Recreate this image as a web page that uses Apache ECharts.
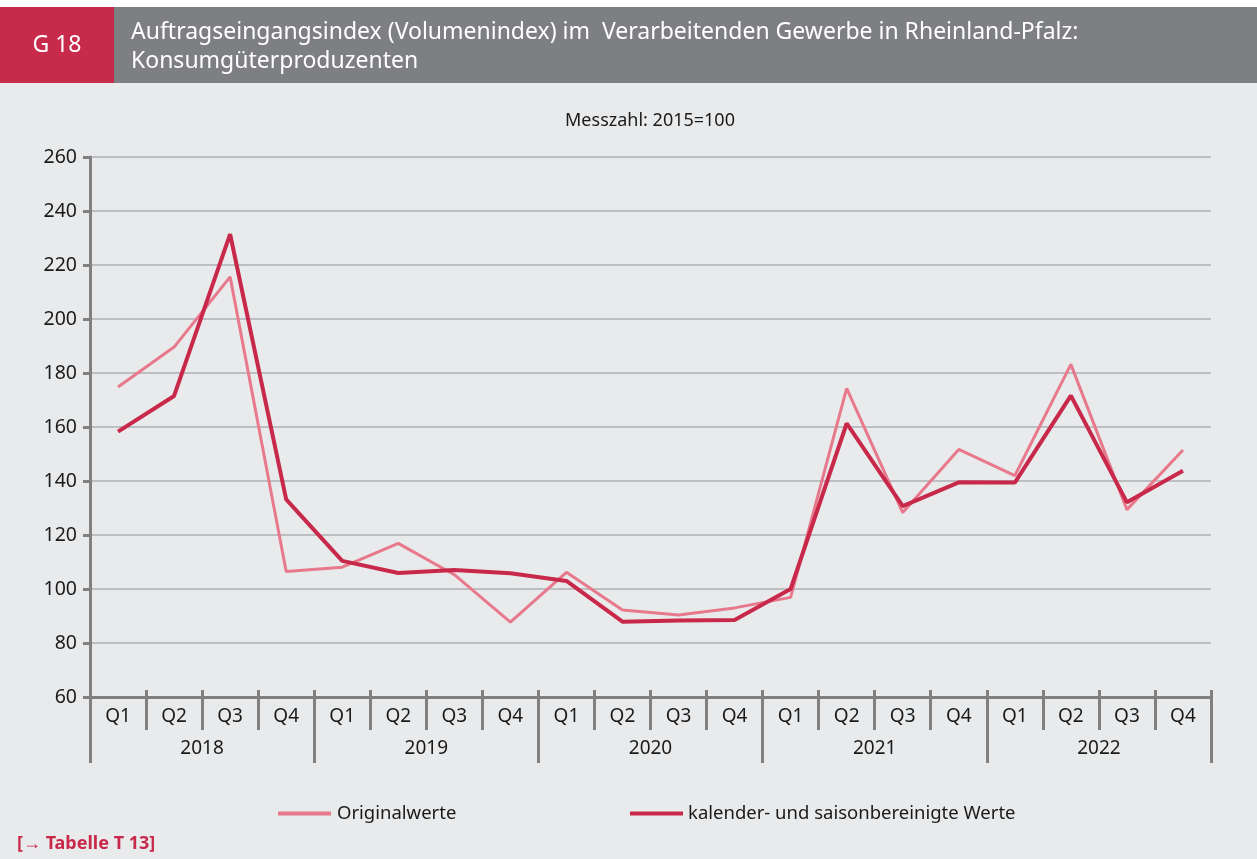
<!DOCTYPE html>
<html>
<head>
<meta charset="utf-8">
<script src="https://cdn.jsdelivr.net/npm/echarts@6/dist/echarts.min.js"></script>
<style>
  html, body { margin: 0; padding: 0; background: #ffffff; }
  #chart { width: 1257px; height: 859px; }
</style>
</head>
<body>
<div id="chart"></div>
<script>
  const quarters = ['Q1', 'Q2', 'Q3', 'Q4', 'Q1', 'Q2', 'Q3', 'Q4', 'Q1', 'Q2', 'Q3', 'Q4',
    'Q1', 'Q2', 'Q3', 'Q4', 'Q1', 'Q2', 'Q3', 'Q4'];
  const years = ['2018', '2019', '2020', '2021', '2022'];
  const originalwerte = [174.8, 189.6, 215.6, 106.5, 108.1, 116.9, 105.3, 87.7, 106.2, 92.2,
    90.4, 93.0, 96.9, 174.3, 128.3, 151.7, 142.0, 183.2, 129.4, 151.5];
  const bereinigt = [158.3, 171.5, 231.4, 133.2, 110.4, 105.9, 107.0, 105.8, 103.0, 87.9,
    88.3, 88.5, 100.0, 161.3, 130.7, 139.5, 139.4, 171.6, 132.1, 143.8];
  const yTicks = [60, 260, 20];

  const font = '"Noto Sans", "Open Sans", sans-serif';
  const axisGray = '#808080';
  const red = '#c8294b';
  const pink = '#e8798c';

  const chart = echarts.init(document.getElementById('chart'));
  chart.setOption({
    animation: false,
    backgroundColor: '#ffffff',
    textStyle: { fontFamily: font },
    graphic: [
      { type: 'rect', z: -10, shape: { x: 0, y: 83, width: 1257, height: 776 }, style: { fill: '#e9eaec' } },
      { type: 'rect', shape: { x: 0, y: 7, width: 114, height: 76 }, style: { fill: '#c72a4a' } },
      { type: 'rect', shape: { x: 114, y: 7, width: 1143, height: 76 }, style: { fill: '#7e7f83' } },
      {
        type: 'text', x: 57, y: 45,
        style: { text: 'G 18', fill: '#ffffff', font: '23px ' + font, align: 'center', verticalAlign: 'middle' }
      },
      {
        type: 'text', left: 131, top: 18,
        style: {
          text: 'Auftragseingangsindex (Volumenindex) im  Verarbeitenden Gewerbe in Rheinland-Pfalz:\nKonsumgüterproduzenten',
          fill: '#ffffff', font: '23px ' + font, lineHeight: 29
        }
      },
      {
        type: 'text', x: 650, y: 121,
        style: { text: 'Messzahl: 2015=100', fill: '#1a1a1a', font: '18px ' + font, align: 'center', verticalAlign: 'middle' }
      },
      {
        type: 'text', x: 17, y: 844,
        style: { text: '[→ Tabelle T 13]', fill: red, font: 'bold 18px ' + font, verticalAlign: 'middle' }
      }
    ],
    grid: { left: 90, right: 46, top: 157, bottom: 162 },
    legend: [
      {
        data: ['Originalwerte'], left: 278, top: 804, padding: 0, itemWidth: 53, itemHeight: 4,
        icon: 'rect', textStyle: { fontSize: 18.5, color: '#1a1a1a', padding: [0, 0, 0, 1] }
      },
      {
        data: ['kalender- und saisonbereinigte Werte'], left: 630, top: 804, padding: 0, itemWidth: 53, itemHeight: 4,
        icon: 'rect', textStyle: { fontSize: 18.5, color: '#1a1a1a', padding: [0, 0, 0, 0] }
      }
    ],
    xAxis: [
      {
        type: 'category', data: quarters, boundaryGap: true, position: 'bottom',
        axisLine: { lineStyle: { color: axisGray, width: 3 } },
        axisTick: { show: true, interval: 0, length: 33, lineStyle: { color: axisGray, width: 3 } },
        axisLabel: { interval: 0, fontSize: 19, color: '#1a1a1a', margin: 10 }
      },
      {
        type: 'category', data: years, boundaryGap: true, position: 'bottom', offset: 33,
        axisLine: { show: false },
        axisTick: { show: true, interval: 0, length: 33, lineStyle: { color: axisGray, width: 3 } },
        axisLabel: { interval: 0, fontSize: 19, color: '#1a1a1a', margin: 9 }
      },
      {
        type: 'category', data: quarters, boundaryGap: true, position: 'bottom',
        axisLine: { show: false },
        axisTick: { show: true, inside: true, interval: 0, length: 7, lineStyle: { color: axisGray, width: 3 } },
        axisLabel: { show: false }
      }
    ],
    yAxis: {
      type: 'value', min: yTicks[0], max: yTicks[1], interval: yTicks[2],
      axisLine: { show: true, lineStyle: { color: axisGray, width: 3 } },
      axisTick: { show: true, length: 7, lineStyle: { color: axisGray, width: 3 } },
      axisLabel: { fontSize: 19.5, color: '#1a1a1a', margin: 13 },
      splitLine: { lineStyle: { color: '#bdbec2', width: 2 } }
    },
    series: [
      {
        name: 'Originalwerte', type: 'line', data: originalwerte, xAxisIndex: 0,
        showSymbol: false, color: pink, lineStyle: { width: 3, color: pink }, z: 2
      },
      {
        name: 'kalender- und saisonbereinigte Werte', type: 'line', data: bereinigt, xAxisIndex: 0,
        showSymbol: false, color: red, lineStyle: { width: 4, color: red }, z: 3
      }
    ]
  });
</script>
</body>
</html>
